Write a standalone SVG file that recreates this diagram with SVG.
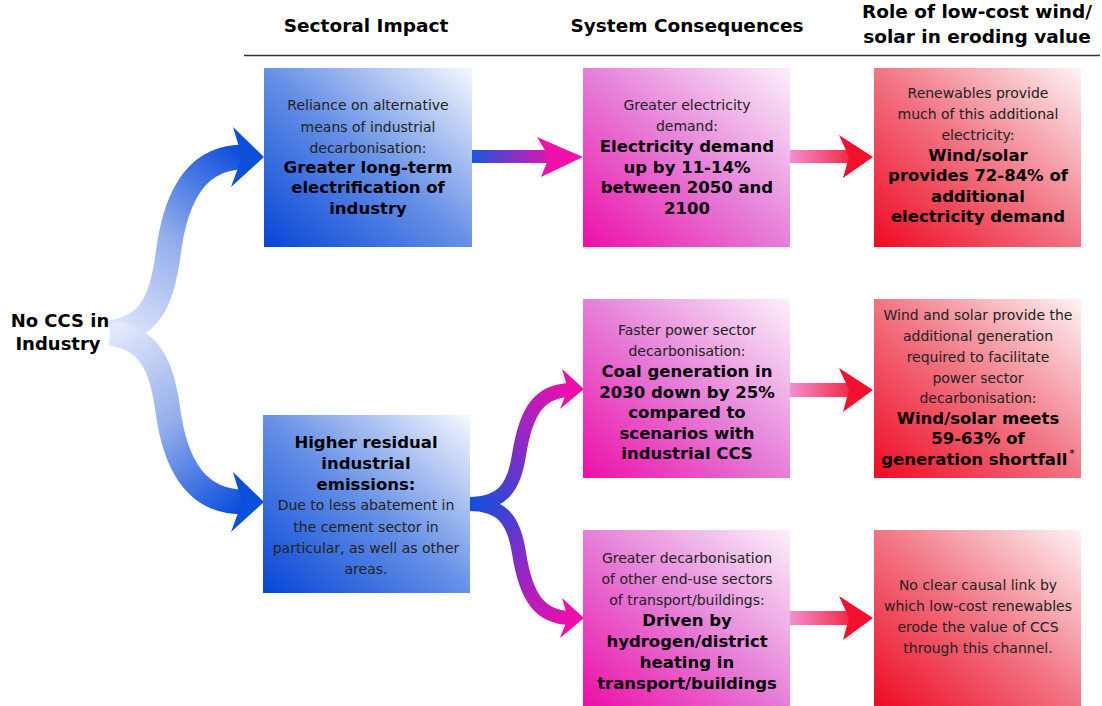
<svg xmlns="http://www.w3.org/2000/svg" width="1102" height="706" viewBox="0 0 1102 706">
<style>
text{font-family:"DejaVu Sans",Verdana,sans-serif;text-anchor:middle}
.n{font-size:14px;fill:#222}
.b{font-size:16.5px;font-weight:bold;fill:#000}
.h{font-size:18.5px;font-weight:bold;fill:#000}
</style>
<defs>
<linearGradient id="gBlue" x1="0" y1="1" x2="1" y2="0">
<stop offset="0" stop-color="#0646d6"/><stop offset="0.5" stop-color="#6690e6"/><stop offset="1" stop-color="#f6f8fe"/>
</linearGradient>
<linearGradient id="gPink" x1="0" y1="1" x2="1" y2="0">
<stop offset="0" stop-color="#ee0ea8"/><stop offset="0.5" stop-color="#e67fd8"/><stop offset="1" stop-color="#fcf0fb"/>
</linearGradient>
<linearGradient id="gRed" x1="0" y1="1" x2="1" y2="0">
<stop offset="0" stop-color="#ee0a22"/><stop offset="0.5" stop-color="#f27483"/><stop offset="1" stop-color="#fef3f4"/>
</linearGradient>
<linearGradient id="fU" gradientUnits="userSpaceOnUse" x1="112" y1="333" x2="244" y2="157">
<stop offset="0" stop-color="#e2e9fb"/><stop offset="0.5" stop-color="#93aeec"/><stop offset="1" stop-color="#0f50dc"/>
</linearGradient>
<linearGradient id="fL" gradientUnits="userSpaceOnUse" x1="112" y1="333" x2="244" y2="502">
<stop offset="0" stop-color="#e2e9fb"/><stop offset="0.5" stop-color="#93aeec"/><stop offset="1" stop-color="#0f50dc"/>
</linearGradient>
<linearGradient id="pU" gradientUnits="userSpaceOnUse" x1="470" y1="504" x2="575" y2="390">
<stop offset="0" stop-color="#1250dc"/><stop offset="0.5" stop-color="#8a2ac6"/><stop offset="1" stop-color="#ee0eac"/>
</linearGradient>
<linearGradient id="pL" gradientUnits="userSpaceOnUse" x1="470" y1="504" x2="575" y2="618">
<stop offset="0" stop-color="#1250dc"/><stop offset="0.5" stop-color="#8a2ac6"/><stop offset="1" stop-color="#ee0eac"/>
</linearGradient>
<linearGradient id="hBP" x1="0" y1="0" x2="1" y2="0">
<stop offset="0" stop-color="#1a56dc"/><stop offset="1" stop-color="#e612b0"/>
</linearGradient>
<linearGradient id="hPR" x1="0" y1="0" x2="1" y2="0">
<stop offset="0" stop-color="#f38fd0"/><stop offset="1" stop-color="#f02a46"/>
</linearGradient>
</defs>

<rect width="1102" height="706" fill="#fff"/>

<g id="headers">
<text class="h" x="366" y="32">Sectoral Impact</text>
<text class="h" x="687" y="32">System Consequences</text>
<text class="h" x="977" y="18">Role of low-cost wind/</text>
<text class="h" x="977" y="43">solar in eroding value</text>
<line x1="244" y1="55.5" x2="1100" y2="55.5" stroke="#333" stroke-width="1.5"/>
</g>

<g id="connectors">
<path d="M110,333 C150,328 162,300 168,255 C176,190 200,157 244,157" fill="none" stroke="url(#fU)" stroke-width="25"/>
<path d="M110,333 C150,338 162,366 168,411 C176,470 200,502 244,502" fill="none" stroke="url(#fL)" stroke-width="25"/>
<polygon points="264,157 233,127 242,157 231,187" fill="#0c4fdb"/>
<polygon points="264,502 233,472 242,502 231,532" fill="#0c4fdb"/>

<rect x="472" y="150" width="80" height="13" fill="url(#hBP)"/>
<polygon points="583,157 537,137 549,157 541,177" fill="#f010aa"/>

<path d="M469,504 C502,504 514,488 519,455 C526,410 540,390 572,390" fill="none" stroke="url(#pU)" stroke-width="14"/>
<path d="M469,504 C502,504 514,520 519,553 C526,598 540,618 572,618" fill="none" stroke="url(#pL)" stroke-width="14"/>
<polygon points="584,389 562,369 568,389 560,409" fill="#ee0eac"/>
<polygon points="584,618 562,598 568,618 560,638" fill="#ee0eac"/>

<rect x="790" y="150" width="60" height="13" fill="url(#hPR)"/>
<polygon points="873,157 839,135 849,157 843,178" fill="#f2102c"/>
<rect x="790" y="383" width="60" height="14" fill="url(#hPR)"/>
<polygon points="873,390 839,368 849,390 843,412" fill="#f2102c"/>
<rect x="790" y="611" width="60" height="14" fill="url(#hPR)"/>
<polygon points="873,618 839,596 849,618 843,640" fill="#f2102c"/>
</g>

<g id="start">
<text class="h" x="60" y="327" style="font-size:18px">No CCS in</text>
<text class="h" x="58" y="350" style="font-size:18px">Industry</text>
</g>

<g id="electrification">
<rect x="264" y="68" width="208" height="179" fill="url(#gBlue)"/>
<text class="n" x="368" y="110">Reliance on alternative</text>
<text class="n" x="368" y="132">means of industrial</text>
<text class="n" x="368" y="153">decarbonisation:</text>
<text class="b" x="368" y="173">Greater long-term</text>
<text class="b" x="368" y="193">electrification of</text>
<text class="b" x="368" y="214">industry</text>
</g>

<g id="residual">
<rect x="263" y="415" width="207" height="178" fill="url(#gBlue)"/>
<text class="b" x="366" y="448">Higher residual</text>
<text class="b" x="366" y="469">industrial</text>
<text class="b" x="366" y="490">emissions:</text>
<text class="n" x="366" y="510">Due to less abatement in</text>
<text class="n" x="366" y="532">the cement sector in</text>
<text class="n" x="366" y="553">particular, as well as other</text>
<text class="n" x="366" y="574">areas.</text>
</g>

<g id="demand">
<rect x="583" y="68" width="207" height="179" fill="url(#gPink)"/>
<text class="n" x="687" y="110">Greater electricity</text>
<text class="n" x="687" y="131">demand:</text>
<text class="b" x="687" y="152">Electricity demand</text>
<text class="b" x="687" y="173">up by 11-14%</text>
<text class="b" x="687" y="193">between 2050 and</text>
<text class="b" x="687" y="214">2100</text>
</g>

<g id="power">
<rect x="583" y="299" width="207" height="179" fill="url(#gPink)"/>
<text class="n" x="687" y="335">Faster power sector</text>
<text class="n" x="687" y="356">decarbonisation:</text>
<text class="b" x="687" y="377">Coal generation in</text>
<text class="b" x="687" y="398">2030 down by 25%</text>
<text class="b" x="687" y="418">compared to</text>
<text class="b" x="687" y="439">scenarios with</text>
<text class="b" x="687" y="459">industrial CCS</text>
</g>

<g id="enduse">
<rect x="583" y="530" width="207" height="176" fill="url(#gPink)"/>
<text class="n" x="687" y="563">Greater decarbonisation</text>
<text class="n" x="687" y="584">of other end-use sectors</text>
<text class="n" x="687" y="605">of transport/buildings:</text>
<text class="b" x="687" y="626">Driven by</text>
<text class="b" x="687" y="647">hydrogen/district</text>
<text class="b" x="687" y="668">heating in</text>
<text class="b" x="687" y="689">transport/buildings</text>
</g>

<g id="renewables">
<rect x="874" y="68" width="207" height="179" fill="url(#gRed)"/>
<text class="n" x="978" y="98">Renewables provide</text>
<text class="n" x="978" y="119">much of this additional</text>
<text class="n" x="978" y="140">electricity:</text>
<text class="b" x="978" y="161">Wind/solar</text>
<text class="b" x="978" y="181">provides 72-84% of</text>
<text class="b" x="978" y="202">additional</text>
<text class="b" x="978" y="222">electricity demand</text>
</g>

<g id="generation">
<rect x="874" y="299" width="207" height="179" fill="url(#gRed)"/>
<text class="n" x="978" y="320">Wind and solar provide the</text>
<text class="n" x="978" y="341">additional generation</text>
<text class="n" x="978" y="362">required to facilitate</text>
<text class="n" x="978" y="383">power sector</text>
<text class="n" x="978" y="403">decarbonisation:</text>
<text class="b" x="978" y="424">Wind/solar meets</text>
<text class="b" x="978" y="444">59-63% of</text>
<text class="b" x="978" y="465">generation shortfall<tspan font-size="11" font-weight="normal" dx="2" dy="-8">*</tspan></text>
</g>

<g id="nolink">
<rect x="874" y="530" width="207" height="176" fill="url(#gRed)"/>
<text class="n" x="978" y="590">No clear causal link by</text>
<text class="n" x="978" y="611">which low-cost renewables</text>
<text class="n" x="978" y="632">erode the value of CCS</text>
<text class="n" x="978" y="653">through this channel.</text>
</g>
</svg>
